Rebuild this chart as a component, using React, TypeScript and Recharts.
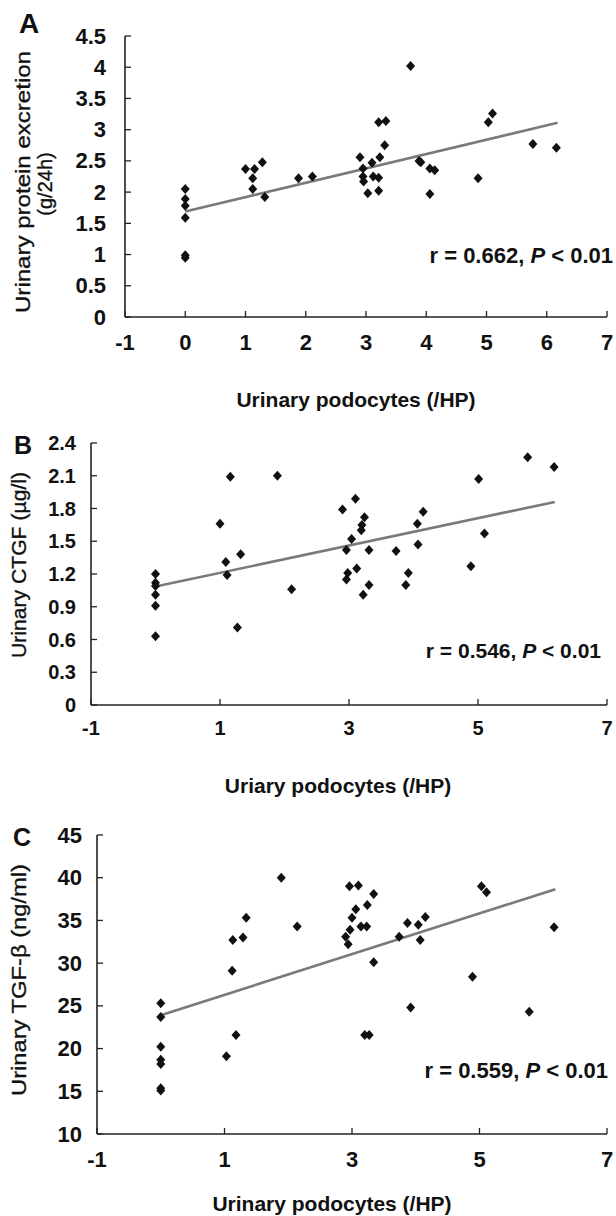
import React from 'react';
import { ScatterChart, Scatter, XAxis, YAxis, ReferenceLine } from 'recharts';

// ---------- Data ----------
const podocytesA = [0, 0, 0, 0, 0, 0, 1.0, 1.15, 1.28, 1.12, 1.12, 1.32, 1.88, 2.11, 2.9, 2.95, 2.95, 2.96, 3.03, 3.1, 3.12, 3.21, 3.21, 3.23, 3.21, 3.33, 3.31, 3.74, 3.88, 3.91, 4.06, 4.14, 4.06, 4.86, 5.03, 5.1, 5.77, 6.16];
const proteinA = [2.05, 1.89, 1.78, 1.59, 0.99, 0.95, 2.37, 2.37, 2.48, 2.22, 2.05, 1.92, 2.22, 2.25, 2.56, 2.38, 2.25, 2.17, 1.98, 2.47, 2.25, 2.23, 2.02, 2.56, 3.12, 3.14, 2.75, 4.02, 2.5, 2.48, 2.38, 2.35, 1.97, 2.22, 3.12, 3.26, 2.77, 2.71];

const podocytesB = [0, 0, 0, 0, 0, 0, 1.0, 1.09, 1.11, 1.16, 1.32, 1.27, 1.89, 2.11, 2.9, 2.96, 2.98, 2.96, 3.04, 3.1, 3.12, 3.19, 3.2, 3.24, 3.22, 3.31, 3.31, 3.73, 3.88, 3.92, 4.06, 4.07, 4.15, 4.89, 5.01, 5.1, 5.77, 6.18];
const ctgfB = [1.2, 1.12, 1.09, 1.01, 0.91, 0.63, 1.66, 1.31, 1.19, 2.09, 1.38, 0.71, 2.1, 1.06, 1.79, 1.42, 1.21, 1.15, 1.52, 1.89, 1.25, 1.6, 1.65, 1.72, 1.01, 1.42, 1.1, 1.41, 1.1, 1.21, 1.66, 1.47, 1.77, 1.27, 2.07, 1.57, 2.27, 2.18];

const podocytesC = [0, 0, 0, 0, 0, 0, 0, 1.12, 1.13, 1.29, 1.34, 1.03, 1.18, 1.89, 2.14, 2.9, 2.94, 2.97, 2.96, 3.0, 3.06, 3.1, 3.14, 3.23, 3.24, 3.34, 3.34, 3.2, 3.27, 3.74, 3.87, 3.92, 4.04, 4.07, 4.15, 4.89, 5.03, 5.11, 5.78, 6.17];
const tgfC = [25.3, 23.7, 20.2, 18.7, 18.2, 15.35, 15.1, 29.1, 32.7, 33.0, 35.3, 19.1, 21.6, 40.0, 34.3, 33.1, 32.2, 33.9, 39.0, 35.3, 36.3, 39.1, 34.3, 34.3, 36.8, 38.1, 30.1, 21.6, 21.6, 33.1, 34.7, 24.8, 34.5, 32.7, 35.4, 28.4, 39.0, 38.3, 24.3, 34.2];

// regression line end points
const fitXA = [0, 6.18];
const fitYA = [1.69, 3.11];
const fitXB = [0, 6.19];
const fitYB = [1.085, 1.86];
const fitXC = [0, 6.19];
const fitYC = [23.9, 38.65];

// tick labels
const xTicksA = [-1, 0, 1, 2, 3, 4, 5, 6, 7];
const yTicksA = [0, 0.5, 1, 1.5, 2, 2.5, 3, 3.5, 4, 4.5];
const xTicksBC = [-1, 1, 3, 5, 7];
const yTicksB = [0, 0.3, 0.6, 0.9, 1.2, 1.5, 1.8, 2.1, 2.4];
const yTicksC = [10, 15, 20, 25, 30, 35, 40, 45];

const FONT = '"Liberation Sans", Arial, Helvetica, sans-serif';
const AXIS = '#222';
const POINT = '#111';
const LINE = '#7a7a7a';

const zip = (xs: number[], ys: number[]) => xs.map((x, i) => ({ x, y: ys[i] }));

const Diamond = (props: any) => {
  const { cx, cy } = props;
  if (cx == null || cy == null) return null;
  const w = 4.5;
  const h = 5;
  return <polygon points={`${cx},${cy - h} ${cx + w},${cy} ${cx},${cy + h} ${cx - w},${cy}`} fill={POINT} />;
};

const makeYTick = (gap: number, fontSize: number) => (props: any) => {
  const { x, y, payload } = props;
  const ax = x + gap;
  return (
    <g>
      <line x1={ax} x2={ax + 6} y1={y} y2={y} stroke={AXIS} strokeWidth={1.3} />
      <text x={x} y={y} textAnchor="end" dominantBaseline="central" fontFamily={FONT} fontWeight="bold" fontSize={fontSize} fill="#111">
        {payload.value}
      </text>
    </g>
  );
};

const makeXTick = (gap: number, fontSize: number) => (props: any) => {
  const { x, y, payload } = props;
  const ay = y - gap;
  return (
    <g>
      <line x1={x} x2={x} y1={ay} y2={ay - 6} stroke={AXIS} strokeWidth={1.3} />
      <text x={x} y={y} textAnchor="middle" dominantBaseline="central" fontFamily={FONT} fontWeight="bold" fontSize={fontSize} fill="#111">
        {payload.value}
      </text>
    </g>
  );
};

type PanelProps = {
  top: number;
  height: number;
  plotLeft: number;
  plotTop: number;
  plotBottom: number;
  data: { x: number; y: number }[];
  fit: { x: number; y: number }[];
  xTicks: number[];
  yTicks: number[];
  yDomain: [number, number];
  yGap: number;
  xGap: number;
  fontSize: number;
};

const Panel = (p: PanelProps) => {
  const W = 616;
  const plotRight = 607;
  const xAxisH = 40;
  return (
    <div style={{ position: 'absolute', left: 0, top: p.top, width: W, height: p.height }}>
      <ScatterChart
        width={W}
        height={p.height}
        margin={{ top: p.plotTop - p.top, right: W - plotRight, left: 0, bottom: p.top + p.height - p.plotBottom - xAxisH }}
      >
        <XAxis
          type="number"
          dataKey="x"
          domain={[-1, 7]}
          ticks={p.xTicks}
          height={xAxisH}
          tickSize={0}
          tickMargin={p.xGap}
          tickLine={false}
          axisLine={{ stroke: AXIS, strokeWidth: 1.6 }}
          tick={makeXTick(p.xGap, p.fontSize)}
          interval={0}
          allowDataOverflow
        />
        <YAxis
          type="number"
          dataKey="y"
          domain={p.yDomain}
          ticks={p.yTicks}
          width={p.plotLeft}
          tickSize={0}
          tickMargin={p.yGap}
          tickLine={false}
          axisLine={{ stroke: AXIS, strokeWidth: 1.6 }}
          tick={makeYTick(p.yGap, p.fontSize)}
          interval={0}
          allowDataOverflow
        />
        <ReferenceLine
          segment={[p.fit[0], p.fit[1]]}
          stroke={LINE}
          strokeWidth={2.6}
          ifOverflow="visible"
        />
        <Scatter data={p.data} shape={Diamond} isAnimationActive={false} />
      </ScatterChart>
    </div>
  );
};

const yTitle = { stroke: '#111', strokeWidth: 0.35 };

const Overlay = () => (
  <svg width={616} height={1216} style={{ position: 'absolute', left: 0, top: 0, pointerEvents: 'none' }}>
    <g fontFamily={FONT} fill="#111">
      {/* Panel A */}
      <text x={19} y={33} fontSize={28} fontWeight="bold">A</text>
      <text x={22} y={182} transform="rotate(-90 22 182)" textAnchor="middle" dominantBaseline="central" fontSize={21} textLength={262} lengthAdjust="spacingAndGlyphs" {...yTitle}>Urinary protein excretion</text>
      <text x={45} y={184} transform="rotate(-90 45 184)" textAnchor="middle" dominantBaseline="central" fontSize={20} {...yTitle}>(g/24h)</text>
      <text x={356} y={399} textAnchor="middle" dominantBaseline="central" fontSize={21} fontWeight="bold">Urinary podocytes (/HP)</text>
      <text x={613} y={255} textAnchor="end" dominantBaseline="central" fontSize={22} fontWeight="bold">
        r = 0.662, <tspan fontStyle="italic">P</tspan> &lt; 0.01
      </text>

      {/* Panel B */}
      <text x={14} y={454} fontSize={25} fontWeight="bold">B</text>
      <text x={19} y={565} transform="rotate(-90 19 565)" textAnchor="middle" dominantBaseline="central" fontSize={20} textLength={186} lengthAdjust="spacingAndGlyphs" {...yTitle}>Urinary CTGF (µg/l)</text>
      <text x={338} y={785} textAnchor="middle" dominantBaseline="central" fontSize={21} fontWeight="bold">Uriary podocytes (/HP)</text>
      <text x={601} y={650} textAnchor="end" dominantBaseline="central" fontSize={21} fontWeight="bold">
        r = 0.546, <tspan fontStyle="italic">P</tspan> &lt; 0.01
      </text>

      {/* Panel C */}
      <text x={13} y={846} fontSize={25} fontWeight="bold">C</text>
      <text x={19} y={980} transform="rotate(-90 19 980)" textAnchor="middle" dominantBaseline="central" fontSize={20} textLength={232} lengthAdjust="spacingAndGlyphs" {...yTitle}>Urinary TGF-β (ng/ml)</text>
      <text x={332} y={1203} textAnchor="middle" dominantBaseline="central" fontSize={21} fontWeight="bold">Urinary podocytes (/HP)</text>
      <text x={608} y={1070} textAnchor="end" dominantBaseline="central" fontSize={22} fontWeight="bold">
        r = 0.559, <tspan fontStyle="italic">P</tspan> &lt; 0.01
      </text>
    </g>
  </svg>
);

export default function App() {
  return (
    <div style={{ position: 'absolute', left: 0, top: 0, width: 616, height: 1216, background: '#fff', overflow: 'hidden' }}>
      <Panel
        top={0}
        height={400}
        plotLeft={125}
        plotTop={36}
        plotBottom={317}
        data={zip(podocytesA, proteinA)}
        fit={zip(fitXA, fitYA)}
        xTicks={xTicksA}
        yTicks={yTicksA}
        yDomain={[0, 4.5]}
        yGap={19}
        xGap={25}
        fontSize={22}
      />
      <Panel
        top={400}
        height={400}
        plotLeft={91}
        plotTop={443}
        plotBottom={705}
        data={zip(podocytesB, ctgfB)}
        fit={zip(fitXB, fitYB)}
        xTicks={xTicksBC}
        yTicks={yTicksB}
        yDomain={[0, 2.4]}
        yGap={15}
        xGap={23}
        fontSize={20}
      />
      <Panel
        top={800}
        height={416}
        plotLeft={97}
        plotTop={835}
        plotBottom={1134}
        data={zip(podocytesC, tgfC)}
        fit={zip(fitXC, fitYC)}
        xTicks={xTicksBC}
        yTicks={yTicksC}
        yDomain={[10, 45]}
        yGap={15}
        xGap={25}
        fontSize={22}
      />
      <Overlay />
    </div>
  );
}
